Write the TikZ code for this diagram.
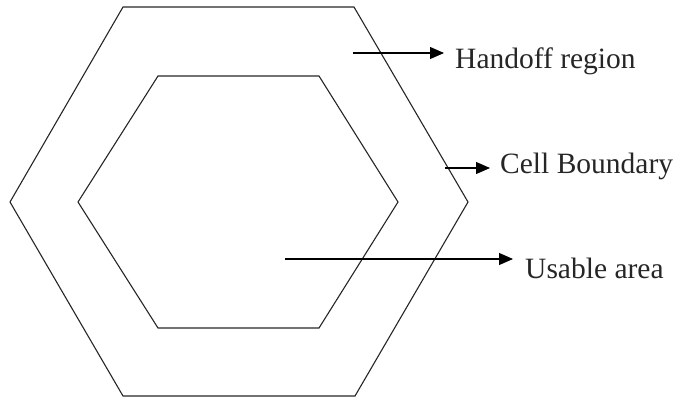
\documentclass[tikz,border=0pt]{standalone}
\usepackage{fontspec}
\setmainfont{Liberation Serif}
\usetikzlibrary{arrows.meta}
\begin{document}
\begin{tikzpicture}[x=1bp,y=-1bp,
  hexline/.style={line width=1.1bp, line join=miter, black!85},
  pointer/.style={line width=1.1bp, -{Triangle[length=14bp,width=12bp]}},
  label/.style={anchor=base west, inner sep=0pt, font=\fontsize{29.5bp}{32bp}\selectfont, text=black!85}]
\useasboundingbox (0,0) rectangle (680,398);

% outer hexagon: the cell boundary
\coordinate (o1) at (10,202);
\coordinate (o2) at (123,7);
\coordinate (o3) at (354,7);
\coordinate (o4) at (468,202);
\coordinate (o5) at (355,396);
\coordinate (o6) at (123,396);
\draw[hexline] (o1) -- (o2) -- (o3) -- (o4) -- (o5) -- (o6) -- cycle;

% inner hexagon: the usable area
\coordinate (i1) at (78,202);
\coordinate (i2) at (158,76);
\coordinate (i3) at (319,76);
\coordinate (i4) at (398,202);
\coordinate (i5) at (319,328);
\coordinate (i6) at (158,328);
\draw[hexline] (i1) -- (i2) -- (i3) -- (i4) -- (i5) -- (i6) -- cycle;

% labels
\node[label] (hand) at (455,68) {Handoff region};
\node[label] (cell) at (500,173) {Cell Boundary};
\node[label] (use)  at (525,278) {Usable area};

% pointers
\coordinate (hs) at (353,53);
\coordinate (cs) at (445,168);
\coordinate (us) at (285,259);
\draw[pointer, shorten >=11bp] (hs) -- (hs -| hand.west);
\draw[pointer, shorten >=10bp] (cs) -- (cs -| cell.west);
\draw[pointer, shorten >=12bp] (us) -- (us -| use.west);
\end{tikzpicture}
\end{document}
